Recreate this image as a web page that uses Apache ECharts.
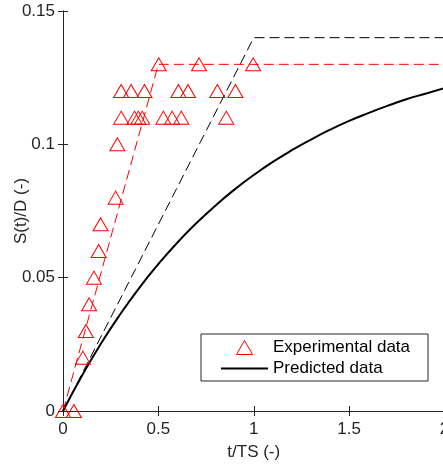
<!DOCTYPE html>
<html>
<head>
<meta charset="utf-8">
<script src="https://cdn.jsdelivr.net/npm/echarts@6/dist/echarts.min.js"></script>
<style>
  html, body { margin: 0; padding: 0; background: #fff; }
  #chart { width: 443px; height: 466px; }
</style>
</head>
<body>
<div id="chart"></div>
<script>
// experimental points (t/TS, S(t)/D)
var expX = [0, 0.057, 0.104, 0.12, 0.137, 0.162, 0.187, 0.197, 0.276, 0.285,
  0.305, 0.375, 0.395, 0.415, 0.526, 0.572, 0.62, 0.856,
  0.305, 0.357, 0.427, 0.605, 0.655, 0.809, 0.904,
  0.502, 0.713, 0.997];
var expY = [0, 0, 0.02, 0.03, 0.04, 0.05, 0.06, 0.07, 0.08, 0.1,
  0.11, 0.11, 0.11, 0.11, 0.11, 0.11, 0.11, 0.11,
  0.12, 0.12, 0.12, 0.12, 0.12, 0.12, 0.12,
  0.13, 0.13, 0.13];

// predicted curve
var predX = [0, 0.1, 0.2, 0.3, 0.4, 0.5, 0.6, 0.7, 0.8, 0.9, 1.0,
  1.1, 1.2, 1.3, 1.4, 1.5, 1.6, 1.7, 1.8, 1.9, 2.0];
var predY = [0, 0.0133, 0.0254, 0.0363, 0.0462, 0.0551, 0.0632, 0.0705, 0.0771, 0.0831, 0.0885,
  0.0934, 0.0978, 0.1018, 0.1055, 0.1088, 0.1117, 0.1144, 0.1169, 0.1190, 0.1211];

// dashed guide lines
var expFitX = [0, 0.5, 2];
var expFitY = [0, 0.13, 0.13];
var predFitX = [0, 1, 2];
var predFitY = [0, 0.14, 0.14];

function pairs(xs, ys) {
  return xs.map(function (x, i) { return [x, ys[i]]; });
}

var font = "'Liberation Sans', Arial, sans-serif";
var axisColor = '#262626';

var mychart = echarts.init(document.getElementById('chart'));
mychart.setOption({
  animation: false,
  textStyle: { fontFamily: font },
  grid: { left: 63, top: 11, right: -1.5, bottom: 55, outerBoundsMode: 'none', containLabel: false },
  legend: {
    orient: 'vertical',
    left: 201,
    top: 334,
    align: 'left',
    itemWidth: 47,
    itemHeight: 14,
    itemGap: 4,
    padding: [5, 18, 4, 19],
    borderColor: axisColor,
    borderWidth: 1,
    backgroundColor: '#fff',
    textStyle: { fontSize: 17, color: '#000', fontFamily: font },
    data: [
      {
        name: 'Experimental data',
        icon: 'path://M0,13L7.5,0L15,13Z',
        itemStyle: { color: 'transparent', borderColor: '#ff0000', borderWidth: 1 }
      },
      { name: 'Predicted data', itemStyle: { opacity: 0 } }
    ]
  },
  xAxis: [
    {
      type: 'value', min: 0, max: 2, interval: 0.5,
      name: 't/TS (-)', nameLocation: 'middle', nameGap: 33, nameMoveOverlap: false,
      nameTextStyle: { fontSize: 17, color: axisColor },
      axisLine: { lineStyle: { color: axisColor } },
      axisTick: { inside: true, length: 5, lineStyle: { color: axisColor } },
      axisLabel: { fontSize: 17, color: axisColor, margin: 10 },
      splitLine: { show: false }
    },
    {
      type: 'value', position: 'top', min: 0, max: 2, interval: 0.5,
      axisLine: { lineStyle: { color: axisColor } },
      axisTick: { inside: true, length: 5, lineStyle: { color: axisColor } },
      axisLabel: { show: false },
      splitLine: { show: false }
    }
  ],
  yAxis: [
    {
      type: 'value', min: 0, max: 0.15, interval: 0.05,
      name: 'S(t)/D (-)', nameLocation: 'middle', nameGap: 33, nameMoveOverlap: false,
      nameTextStyle: { fontSize: 17, color: axisColor },
      axisLine: { show: true, lineStyle: { color: axisColor } },
      axisTick: { show: true, inside: true, length: 5, lineStyle: { color: axisColor } },
      axisLabel: { fontSize: 17, color: axisColor, margin: 8 },
      splitLine: { show: false }
    },
    {
      type: 'value', position: 'right', min: 0, max: 0.15, interval: 0.05,
      axisLine: { show: true, lineStyle: { color: axisColor } },
      axisTick: { show: true, inside: true, length: 5, lineStyle: { color: axisColor } },
      axisLabel: { show: false },
      splitLine: { show: false }
    }
  ],
  series: [
    {
      name: 'exp fit',
      type: 'line',
      data: pairs(expFitX, expFitY),
      symbol: 'none',
      lineStyle: { color: '#ff0000', width: 1, type: [10, 5] },
      z: 2
    },
    {
      name: 'pred fit',
      type: 'line',
      data: pairs(predFitX, predFitY),
      symbol: 'none',
      lineStyle: { color: '#000', width: 1, type: [10, 5] },
      z: 2
    },
    {
      name: 'Predicted data',
      type: 'line',
      data: pairs(predX, predY),
      symbol: 'none',
      smooth: true,
      color: '#000',
      lineStyle: { color: '#000', width: 2 },
      z: 3
    },
    {
      name: 'Experimental data',
      type: 'scatter',
      data: pairs(expX, expY),
      symbol: 'triangle',
      symbolSize: [15, 13],
      itemStyle: { color: 'transparent', borderColor: '#ff0000', borderWidth: 1, opacity: 1 },
      z: 4
    }
  ]
});
</script>
</body>
</html>
